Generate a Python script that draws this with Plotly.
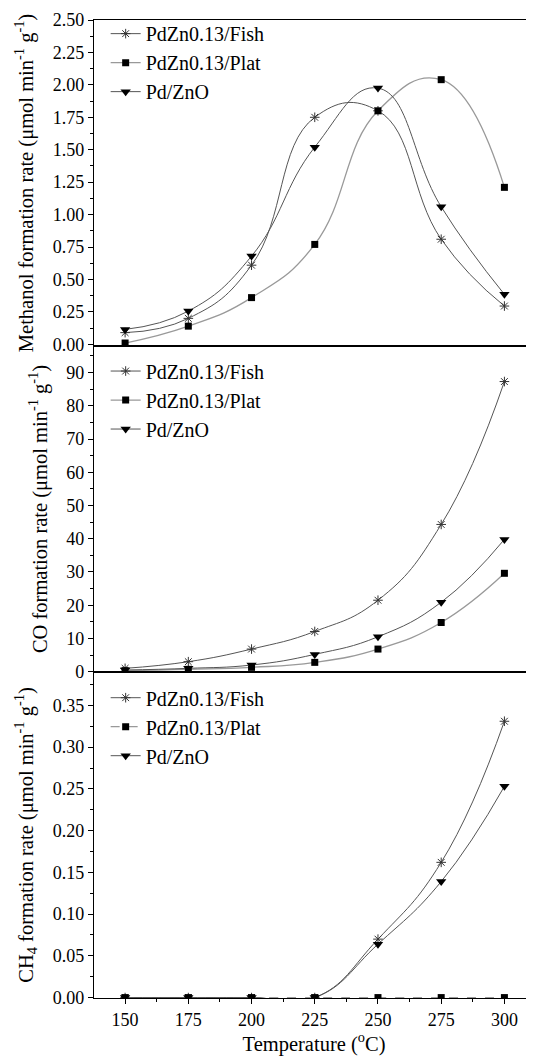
import plotly.graph_objects as go

temps = [150, 175, 200, 225, 250, 275, 300]

meoh_fish = [0.09, 0.20, 0.61, 1.75, 1.80, 0.81, 0.295]
meoh_plat = [0.01, 0.14, 0.36, 0.77, 1.80, 2.04, 1.21]
meoh_pdzno = [0.115, 0.256, 0.68, 1.52, 1.975, 1.06, 0.385]

co_fish = [1.0, 3.0, 6.8, 12.1, 21.5, 44.3, 87.3]
co_plat = [0.3, 0.7, 1.3, 2.8, 6.8, 14.8, 29.6]
co_pdzno = [0.5, 1.0, 2.0, 5.2, 10.5, 20.9, 39.8]

ch4_fish = [0.0, 0.0, 0.0, 0.0, 0.070, 0.162, 0.331]
ch4_plat = [0.0, 0.0, 0.0, 0.0, 0.0, 0.0, 0.0]
ch4_pdzno = [0.0, 0.0, 0.0, 0.0, 0.064, 0.139, 0.253]

names = ["PdZn0.13/Fish", "PdZn0.13/Plat", "Pd/ZnO"]

FONT = "Liberation Serif, Times New Roman, DejaVu Serif, serif"
LINE_DARK = "#555555"
LINE_PLAT = "#999999"
SMOOTH = 1.3

fig = go.Figure()


def add_panel(fish, plat, pdzno, yaxis, xaxis, legend, plat_dash="solid"):
    fig.add_trace(go.Scatter(
        x=temps, y=fish, name=names[0], mode="lines+markers",
        line=dict(color=LINE_DARK, width=1, shape="spline", smoothing=SMOOTH),
        marker=dict(symbol="asterisk-open", size=8, color="#333333",
                    line=dict(width=1, color="#333333")),
        xaxis=xaxis, yaxis=yaxis, legend=legend))
    fig.add_trace(go.Scatter(
        x=temps, y=plat, name=names[1], mode="lines+markers",
        line=dict(color=LINE_PLAT, width=1.3, shape="spline", smoothing=SMOOTH,
                  dash=plat_dash),
        marker=dict(symbol="square", size=7, color="black"),
        xaxis=xaxis, yaxis=yaxis, legend=legend))
    fig.add_trace(go.Scatter(
        x=temps, y=pdzno, name=names[2], mode="lines+markers",
        line=dict(color=LINE_DARK, width=1, shape="spline", smoothing=SMOOTH),
        marker=dict(symbol="triangle-down", size=9, color="black"),
        xaxis=xaxis, yaxis=yaxis, legend=legend))


add_panel(meoh_fish, meoh_plat, meoh_pdzno, "y", "x", "legend")
add_panel(co_fish, co_plat, co_pdzno, "y2", "x2", "legend2")
add_panel(ch4_fish, ch4_plat, ch4_pdzno, "y3", "x3", "legend3", plat_dash="dash")

tickfont = dict(family=FONT, size=18, color="black")
titlefont = dict(family=FONT, size=20.5, color="black")
legfont = dict(family=FONT, size=20, color="black")

xcommon = dict(range=[137.7, 311.7], showline=True, linecolor="black",
               linewidth=1.2, mirror=True, showgrid=False, zeroline=False,
               tickfont=tickfont, automargin=False)

ycommon = dict(ticks="outside", ticklen=5, tickcolor="black",
               showline=True, linecolor="black", linewidth=1.2,
               showgrid=False, zeroline=False, tickfont=tickfont,
               automargin=False)

fig.update_layout(
    width=526, height=1048,
    margin=dict(l=86, r=0, t=12, b=58),
    paper_bgcolor="white", plot_bgcolor="white",
    font=dict(family=FONT, color="black"),
    xaxis=dict(domain=[0, 1], anchor="y", showticklabels=False, ticks="",
               **xcommon),
    xaxis2=dict(domain=[0, 1], anchor="y2", showticklabels=False, ticks="",
                **xcommon),
    xaxis3=dict(domain=[0, 1], anchor="y3", ticks="outside", ticklen=5,
                tickwidth=1, tickcolor="black", tickvals=temps,
                minor=dict(ticks="outside", ticklen=3, tick0=162.5, dtick=25,
                           tickcolor="black"),
                title=dict(text="Temperature (<sup>o</sup>C)", font=titlefont,
                           standoff=12),
                **xcommon),
    yaxis=dict(domain=[2/3, 1], anchor="x", range=[-0.013, 2.5],
               tick0=0, dtick=0.25, tickformat=".2f",
               minor=dict(ticks="outside", ticklen=3, dtick=0.125,
                          tickcolor="black"),
               title=dict(text="Methanol formation rate (μmol min<sup>-1</sup> g<sup>-1</sup>)",
                          font=titlefont, standoff=13),
               **ycommon),
    yaxis2=dict(domain=[1/3, 2/3], anchor="x2", range=[-0.1, 98],
                tick0=0, dtick=10,
                minor=dict(ticks="outside", ticklen=3, dtick=5,
                           tickcolor="black"),
                title=dict(text="CO formation rate (μmol min<sup>-1</sup> g<sup>-1</sup>)",
                           font=titlefont, standoff=13),
                **ycommon),
    yaxis3=dict(domain=[0, 1/3], anchor="x3", range=[-0.0005, 0.39],
                tick0=0, dtick=0.05, tickformat=".2f",
                minor=dict(ticks="outside", ticklen=3, dtick=0.025,
                           tickcolor="black"),
                title=dict(text="CH<sub>4</sub> formation rate (μmol min<sup>-1</sup> g<sup>-1</sup>)",
                           font=titlefont, standoff=13),
                **ycommon),
    legend=dict(x=0.0265, y=1.006, xanchor="left", yanchor="top",
                bgcolor="rgba(0,0,0,0)", font=legfont,
                tracegroupgap=0, itemwidth=30),
    legend2=dict(x=0.0265, y=0.661, xanchor="left", yanchor="top",
                 bgcolor="rgba(0,0,0,0)", font=legfont,
                 tracegroupgap=0, itemwidth=30),
    legend3=dict(x=0.0265, y=0.327, xanchor="left", yanchor="top",
                 bgcolor="rgba(0,0,0,0)", font=legfont,
                 tracegroupgap=0, itemwidth=30),
)

fig.write_html("out.html")
